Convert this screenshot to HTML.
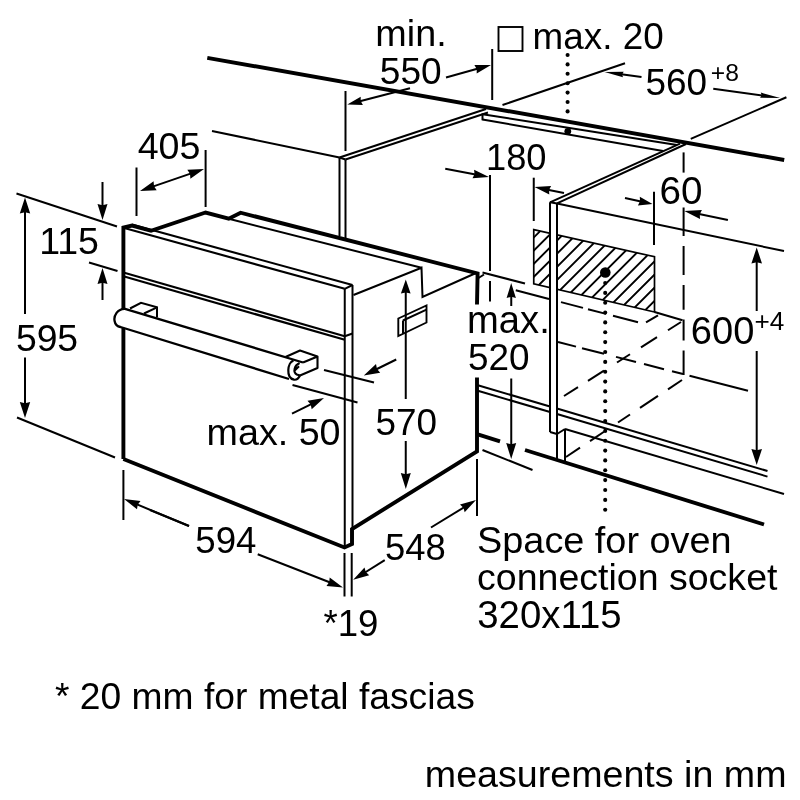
<!DOCTYPE html>
<html><head><meta charset="utf-8"><title>Oven installation dimensions</title>
<style>
html,body{margin:0;padding:0;background:#fff;}
svg{display:block;filter:grayscale(1)}
svg text{font-family:"Liberation Sans",Arial,Helvetica,sans-serif;fill:#000;stroke:none}
</style></head><body>
<svg width="800" height="800" viewBox="0 0 800 800" stroke="#000" fill="none">
<rect x="0" y="0" width="800" height="800" fill="#fff" stroke="none"/>
<line x1="207.3" y1="57.8" x2="784.2" y2="160" stroke-width="3.9" stroke-linecap="butt"/>
<line x1="212" y1="131" x2="339.5" y2="157.5" stroke-width="2.0" stroke-linecap="butt"/>
<polyline points="482.5,113.4 482.5,120.3" stroke-width="2.0" fill="none" stroke-linejoin="miter"/>
<line x1="482.5" y1="114.2" x2="677" y2="145" stroke-width="2.0" stroke-linecap="butt"/>
<line x1="482.5" y1="119.5" x2="663" y2="151" stroke-width="2.0" stroke-linecap="butt"/>
<line x1="339.5" y1="157.5" x2="486" y2="109" stroke-width="2.0" stroke-linecap="butt"/>
<line x1="345.5" y1="159.5" x2="488" y2="112.5" stroke-width="2.0" stroke-linecap="butt"/>
<line x1="339.5" y1="157.5" x2="339.5" y2="236" stroke-width="2.0" stroke-linecap="butt"/>
<line x1="345.5" y1="159.5" x2="345.5" y2="238" stroke-width="2.0" stroke-linecap="butt"/>
<line x1="339.5" y1="157.5" x2="345.5" y2="159.5" stroke-width="2.0" stroke-linecap="butt"/>
<defs><clipPath id="hc"><polygon points="533.75,229.6 654.5,256.75 654.5,312 533.75,283.9"/></clipPath></defs>
<path d="M451.25,320 L551.25,220 M464.40,320 L564.40,220 M477.55,320 L577.55,220 M490.70,320 L590.70,220 M503.85,320 L603.85,220 M517.00,320 L617.00,220 M530.15,320 L630.15,220 M543.30,320 L643.30,220 M556.45,320 L656.45,220 M569.60,320 L669.60,220 M582.75,320 L682.75,220 M595.90,320 L695.90,220 M609.05,320 L709.05,220 M622.20,320 L722.20,220 M635.35,320 L735.35,220 M648.50,320 L748.50,220" stroke-width="1.9" clip-path="url(#hc)"/>
<polygon points="533.75,229.6 654.5,256.75 654.5,312 533.75,283.9" stroke-width="1.7" fill="none" stroke-linejoin="miter"/>
<line x1="654.5" y1="312" x2="682.5" y2="320.3" stroke-width="2.0" stroke-linecap="butt"/>
<line x1="557" y1="203.6" x2="784" y2="251" stroke-width="2.0" stroke-linecap="butt"/>
<line x1="515.75" y1="290.25" x2="549" y2="298.9615" stroke-width="2.0" stroke-linecap="butt"/>
<line x1="561" y1="302.1055" x2="583" y2="307.8695" stroke-width="2.0" stroke-linecap="butt"/>
<line x1="588" y1="309.1795" x2="606" y2="313.8955" stroke-width="2.0" stroke-linecap="butt"/>
<line x1="613" y1="315.72950000000003" x2="638" y2="322.2795" stroke-width="2.0" stroke-linecap="butt"/>
<line x1="646" y1="322.3" x2="658" y2="315.3" stroke-width="2.0" stroke-linecap="butt"/>
<line x1="681" y1="322.0" x2="668" y2="330.22222222222223" stroke-width="2.0" stroke-linecap="butt"/>
<line x1="657" y1="337.1794871794872" x2="641" y2="347.2991452991453" stroke-width="2.0" stroke-linecap="butt"/>
<line x1="630" y1="354.2564102564103" x2="617" y2="362.47863247863245" stroke-width="2.0" stroke-linecap="butt"/>
<line x1="604" y1="370.7008547008547" x2="588" y2="380.8205128205128" stroke-width="2.0" stroke-linecap="butt"/>
<line x1="578" y1="387.14529914529913" x2="564" y2="396.0" stroke-width="2.0" stroke-linecap="butt"/>
<line x1="558" y1="342.0" x2="576" y2="346.6188" stroke-width="2.0" stroke-linecap="butt"/>
<line x1="582" y1="348.15840000000003" x2="604" y2="353.8036" stroke-width="2.0" stroke-linecap="butt"/>
<line x1="616" y1="356.8828" x2="636" y2="362.0148" stroke-width="2.0" stroke-linecap="butt"/>
<line x1="644" y1="364.06759999999997" x2="664" y2="369.1996" stroke-width="2.0" stroke-linecap="butt"/>
<line x1="672" y1="371.2524" x2="683" y2="374.075" stroke-width="2.0" stroke-linecap="butt"/>
<line x1="689.5" y1="375.7429" x2="748" y2="390.754" stroke-width="2.0" stroke-linecap="butt"/>
<line x1="682" y1="380.0" x2="668" y2="389.2931034482759" stroke-width="2.0" stroke-linecap="butt"/>
<line x1="658" y1="395.9310344827586" x2="640" y2="407.87931034482756" stroke-width="2.0" stroke-linecap="butt"/>
<line x1="630" y1="414.51724137931035" x2="618" y2="422.48275862068965" stroke-width="2.0" stroke-linecap="butt"/>
<line x1="604" y1="431.7758620689655" x2="590" y2="441.0689655172414" stroke-width="2.0" stroke-linecap="butt"/>
<line x1="580" y1="447.7068965517241" x2="566" y2="457.0" stroke-width="2.0" stroke-linecap="butt"/>
<line x1="683.6" y1="152.4" x2="683.6" y2="172.6" stroke-width="2.0" stroke-linecap="butt"/>
<line x1="683.6" y1="207.5" x2="683.6" y2="236" stroke-width="2.0" stroke-linecap="butt"/>
<line x1="683.6" y1="246" x2="683.6" y2="275" stroke-width="2.0" stroke-linecap="butt"/>
<line x1="683.6" y1="285" x2="683.6" y2="309.75" stroke-width="2.0" stroke-linecap="butt"/>
<line x1="683.6" y1="319.5" x2="683.6" y2="340.5" stroke-width="2.0" stroke-linecap="butt"/>
<line x1="683.6" y1="350.5" x2="683.6" y2="375" stroke-width="2.0" stroke-linecap="butt"/>
<polygon points="550,202.3 557,203.4 557,434 550,432" fill="#fff" stroke="none"/>
<line x1="550" y1="202.3" x2="680" y2="143.7" stroke-width="2.0" stroke-linecap="butt"/>
<line x1="557" y1="203.4" x2="686" y2="144" stroke-width="2.0" stroke-linecap="butt"/>
<line x1="550" y1="202.3" x2="557" y2="203.4" stroke-width="2.0" stroke-linecap="butt"/>
<line x1="550" y1="202.3" x2="550" y2="432" stroke-width="2.0" stroke-linecap="butt"/>
<line x1="557" y1="203.4" x2="557" y2="459" stroke-width="2.0" stroke-linecap="butt"/>
<line x1="550" y1="432" x2="557" y2="434" stroke-width="2.0" stroke-linecap="butt"/>
<line x1="557" y1="434" x2="565" y2="429" stroke-width="2.0" stroke-linecap="butt"/>
<line x1="565" y1="429" x2="565" y2="461" stroke-width="2.0" stroke-linecap="butt"/>
<line x1="477" y1="385" x2="550" y2="406.5" stroke-width="2.0" stroke-linecap="butt"/>
<line x1="477" y1="390.5" x2="550" y2="412" stroke-width="2.0" stroke-linecap="butt"/>
<line x1="557" y1="408.5" x2="767.5" y2="471" stroke-width="2.0" stroke-linecap="butt"/>
<line x1="557" y1="414" x2="767.5" y2="476.6" stroke-width="2.0" stroke-linecap="butt"/>
<line x1="565" y1="429" x2="784" y2="494" stroke-width="2.0" stroke-linecap="butt"/>
<line x1="477" y1="434.2" x2="500" y2="441.4" stroke-width="3.9" stroke-linecap="butt"/>
<line x1="525" y1="450" x2="764" y2="524.5" stroke-width="3.9" stroke-linecap="butt"/>
<circle cx="567.6" cy="55.0" r="2.05" fill="#000" stroke="none"/>
<circle cx="567.6" cy="64.4" r="2.05" fill="#000" stroke="none"/>
<circle cx="567.6" cy="73.8" r="2.05" fill="#000" stroke="none"/>
<circle cx="567.6" cy="83.2" r="2.05" fill="#000" stroke="none"/>
<circle cx="567.6" cy="92.6" r="2.05" fill="#000" stroke="none"/>
<circle cx="567.6" cy="102.0" r="2.05" fill="#000" stroke="none"/>
<circle cx="567.6" cy="111.4" r="2.05" fill="#000" stroke="none"/>
<circle cx="567.8" cy="131.3" r="3.4" fill="#000" stroke="none"/>
<circle cx="605.3" cy="272.5" r="5.3" fill="#000" stroke="none"/>
<circle cx="605.2" cy="283.0" r="2.05" fill="#000" stroke="none"/>
<circle cx="605.2" cy="292.9" r="2.05" fill="#000" stroke="none"/>
<circle cx="605.2" cy="302.7" r="2.05" fill="#000" stroke="none"/>
<circle cx="605.2" cy="312.6" r="2.05" fill="#000" stroke="none"/>
<circle cx="605.2" cy="322.4" r="2.05" fill="#000" stroke="none"/>
<circle cx="605.2" cy="332.3" r="2.05" fill="#000" stroke="none"/>
<circle cx="605.2" cy="342.1" r="2.05" fill="#000" stroke="none"/>
<circle cx="605.2" cy="352.0" r="2.05" fill="#000" stroke="none"/>
<circle cx="605.2" cy="361.9" r="2.05" fill="#000" stroke="none"/>
<circle cx="605.2" cy="371.7" r="2.05" fill="#000" stroke="none"/>
<circle cx="605.2" cy="381.6" r="2.05" fill="#000" stroke="none"/>
<circle cx="605.2" cy="391.4" r="2.05" fill="#000" stroke="none"/>
<circle cx="605.2" cy="401.3" r="2.05" fill="#000" stroke="none"/>
<circle cx="605.2" cy="411.1" r="2.05" fill="#000" stroke="none"/>
<circle cx="605.2" cy="421.0" r="2.05" fill="#000" stroke="none"/>
<circle cx="605.2" cy="430.9" r="2.05" fill="#000" stroke="none"/>
<circle cx="605.2" cy="440.7" r="2.05" fill="#000" stroke="none"/>
<circle cx="605.2" cy="450.6" r="2.05" fill="#000" stroke="none"/>
<circle cx="605.2" cy="460.4" r="2.05" fill="#000" stroke="none"/>
<circle cx="605.2" cy="470.3" r="2.05" fill="#000" stroke="none"/>
<circle cx="605.2" cy="480.1" r="2.05" fill="#000" stroke="none"/>
<circle cx="605.2" cy="490.0" r="2.05" fill="#000" stroke="none"/>
<circle cx="605.2" cy="499.9" r="2.05" fill="#000" stroke="none"/>
<circle cx="605.2" cy="509.7" r="2.05" fill="#000" stroke="none"/>
<polygon points="123.4,227.6 132,225.5 151,230.8 205.6,212.5 228.75,218.75 240.6,212.7 478,273.5 477,451 352,529 352,544 344.5,547.5 123.4,459" fill="#fff" stroke="none"/>
<polyline points="123.4,459 123.4,227.6 132,225.5 151,230.8 205.6,212.5 228.75,218.75 240.6,212.7 477.6,273.4 477,304.5" stroke-width="3.9" fill="none" stroke-linejoin="miter"/>
<polyline points="477,377.5 477,451.5 352,529 352,544 344.5,547.5 123.4,459" stroke-width="3.9" fill="none" stroke-linejoin="miter"/>
<line x1="123.4" y1="227.8" x2="344.75" y2="288.8" stroke-width="2.1" stroke-linecap="butt"/>
<line x1="132" y1="224.5" x2="352.5" y2="285" stroke-width="2.1" stroke-linecap="butt"/>
<line x1="344.75" y1="288.8" x2="352.5" y2="285" stroke-width="2.0" stroke-linecap="butt"/>
<line x1="344.75" y1="288.8" x2="344.75" y2="547" stroke-width="2.0" stroke-linecap="butt"/>
<line x1="352.5" y1="285" x2="352.5" y2="544" stroke-width="2.0" stroke-linecap="butt"/>
<line x1="228.75" y1="218.75" x2="421.5" y2="267.8" stroke-width="2.0" stroke-linecap="butt"/>
<polyline points="353.5,295 421.5,267.8 422.5,297 476,273" stroke-width="2.0" fill="none" stroke-linejoin="miter"/>
<line x1="123.4" y1="272.5" x2="344.75" y2="336.25" stroke-width="2.1" stroke-linecap="butt"/>
<line x1="123.4" y1="276.3" x2="344.75" y2="339.8" stroke-width="2.2" stroke-linecap="butt"/>
<line x1="344.75" y1="336.25" x2="352.5" y2="333.5" stroke-width="2.0" stroke-linecap="butt"/>
<polygon points="398.3,318.5 426.5,305.5 426.5,322.5 398.3,336" stroke-width="1.9" fill="none" stroke-linejoin="miter"/>
<polyline points="403,320.5 403,333.5" stroke-width="2.0" fill="none" stroke-linejoin="miter"/>
<line x1="403" y1="320.5" x2="426.5" y2="309.7" stroke-width="2.0" stroke-linecap="butt"/>
<path d="M125,308.8 C117.5,308.5 113.5,316 114.6,321 C115.2,324.5 117.5,326.5 120.5,327 L289,379 L294,380 L300,375.5 L303,362.5 Z" fill="#fff" stroke="none"/>
<polyline points="130,308.5 141,302.8 157,307.2 157,317.5" stroke-width="2" fill="none" stroke-linejoin="miter"/>
<polyline points="144,313.5 156,307.8" stroke-width="2" fill="none" stroke-linejoin="miter"/>
<path d="M303,362.5 L125,308.8 C117.5,308.5 113.5,316 114.6,321 C115.2,324.5 117.5,326.5 120.5,327 L289,379" stroke-width="2.3" fill="none" stroke-linejoin="round"/>
<path d="M285.5,357 L300,350.5 L317.5,356.5 L303,362.5 M317.5,356.5 L317.5,368 L300,375.5" stroke-width="2.1" fill="none" stroke-linejoin="round"/>
<path d="M293.5,360.6 C287.5,362 285.5,378 294,379.7 C297,380.2 299,377.5 300,375.5" stroke-width="2.2" fill="none"/>
<path d="M299.6,363 C294.3,365.3 292.6,372 296.8,374.5 L300,375.5 M294.7,370.4 L299,366.3" stroke-width="2.1" fill="none"/>
<line x1="16.5" y1="193.5" x2="117" y2="226.5" stroke-width="2.0" stroke-linecap="butt"/>
<line x1="17" y1="417.5" x2="115" y2="457.5" stroke-width="2.0" stroke-linecap="butt"/>
<line x1="25" y1="314" x2="25.0" y2="207.1" stroke-width="2.0" stroke-linecap="butt"/>
<polygon points="25.0,197.5 30.2,213.5 25.0,212.3 19.8,213.5" fill="#000" stroke="none"/>
<line x1="25" y1="357.5" x2="25.0" y2="408.4" stroke-width="2.0" stroke-linecap="butt"/>
<polygon points="25.0,418.0 19.8,402.0 25.0,403.2 30.2,402.0" fill="#000" stroke="none"/>
<line x1="102.5" y1="182" x2="102.5" y2="210.4" stroke-width="2.0" stroke-linecap="butt"/>
<polygon points="102.5,220.0 97.5,204.0 102.5,205.2 107.5,204.0" fill="#000" stroke="none"/>
<line x1="102.5" y1="300" x2="102.5" y2="277.6" stroke-width="2.0" stroke-linecap="butt"/>
<polygon points="102.5,268.0 107.5,284.0 102.5,282.8 97.5,284.0" fill="#000" stroke="none"/>
<line x1="89" y1="262.5" x2="117.5" y2="271" stroke-width="2.0" stroke-linecap="butt"/>
<line x1="136.5" y1="167.5" x2="136.5" y2="216" stroke-width="2.0" stroke-linecap="butt"/>
<line x1="205.6" y1="150" x2="205.6" y2="207" stroke-width="2.0" stroke-linecap="butt"/>
<line x1="149.08" y1="187.88" x2="194.92" y2="172.12" stroke-width="2.0" stroke-linecap="butt"/>
<polygon points="204.0,169.0 190.4,178.7 190.0,173.8 187.3,169.7" fill="#000" stroke="none"/>
<polygon points="140.0,191.0 153.6,181.3 154.0,186.2 156.7,190.3" fill="#000" stroke="none"/>
<line x1="345.5" y1="91" x2="345.5" y2="151" stroke-width="2.0" stroke-linecap="butt"/>
<line x1="492.2" y1="49" x2="492.2" y2="100" stroke-width="2.0" stroke-linecap="butt"/>
<line x1="410" y1="88.3" x2="356.01" y2="102.34" stroke-width="2.0" stroke-linecap="butt"/>
<polygon points="347.3,104.6 360.7,96.7 360.7,101.1 362.9,105.0" fill="#000" stroke="none"/>
<line x1="446" y1="77.5" x2="481.75" y2="67.57" stroke-width="2.0" stroke-linecap="butt"/>
<polygon points="491.0,65.0 476.7,73.4 476.7,69.0 474.4,65.1" fill="#000" stroke="none"/>
<line x1="502.5" y1="105" x2="625" y2="63.3" stroke-width="2.0" stroke-linecap="butt"/>
<line x1="690.75" y1="138.9" x2="786.4" y2="97.25" stroke-width="2.0" stroke-linecap="butt"/>
<line x1="641.5" y1="77" x2="615.8" y2="73.53" stroke-width="2.0" stroke-linecap="butt"/>
<polygon points="604.5,72.0 623.7,71.8 622.1,74.4 623.0,77.3" fill="#000" stroke="none"/>
<line x1="713.25" y1="88.7" x2="768.41" y2="96.27" stroke-width="2.0" stroke-linecap="butt"/>
<polygon points="780.3,97.9 760.1,97.8 761.7,95.3 760.8,92.6" fill="#000" stroke="none"/>
<line x1="490" y1="175" x2="490" y2="271" stroke-width="2.0" stroke-linecap="butt"/>
<line x1="490" y1="281" x2="490" y2="301.5" stroke-width="2.0" stroke-linecap="butt"/>
<line x1="478.5" y1="278" x2="484" y2="274.5" stroke-width="2.0" stroke-linecap="butt"/>
<line x1="533.75" y1="177.7" x2="533.75" y2="221" stroke-width="2.0" stroke-linecap="butt"/>
<line x1="445.25" y1="168.7" x2="479.57" y2="175.21" stroke-width="2.0" stroke-linecap="butt"/>
<polygon points="489.0,177.0 472.5,178.3 474.5,174.2 474.1,169.7" fill="#000" stroke="none"/>
<line x1="564" y1="193" x2="543.91" y2="188.91" stroke-width="2.0" stroke-linecap="butt"/>
<polygon points="534.5,187.0 551.1,185.9 549.0,189.9 549.3,194.5" fill="#000" stroke="none"/>
<line x1="654" y1="191.75" x2="654" y2="245" stroke-width="2.0" stroke-linecap="butt"/>
<line x1="625" y1="198" x2="644.3" y2="202.28" stroke-width="2.0" stroke-linecap="butt"/>
<polygon points="652.5,204.1 637.9,205.4 640.0,201.3 639.8,196.8" fill="#000" stroke="none"/>
<line x1="727.9" y1="219.9" x2="694.29" y2="213.04" stroke-width="2.0" stroke-linecap="butt"/>
<polygon points="684.3,211.0 701.9,209.9 699.8,214.2 700.0,218.9" fill="#000" stroke="none"/>
<line x1="756.7" y1="311" x2="756.7" y2="257.1" stroke-width="2.0" stroke-linecap="butt"/>
<polygon points="756.7,247.5 762.0,263.5 756.7,262.3 751.4,263.5" fill="#000" stroke="none"/>
<line x1="756.7" y1="351" x2="756.7" y2="455.4" stroke-width="2.0" stroke-linecap="butt"/>
<polygon points="756.7,465.0 751.4,449.0 756.7,450.2 762.0,449.0" fill="#000" stroke="none"/>
<line x1="482.5" y1="272.5" x2="525" y2="283.5" stroke-width="2.0" stroke-linecap="butt"/>
<line x1="482.5" y1="450" x2="532.5" y2="470" stroke-width="2.0" stroke-linecap="butt"/>
<line x1="511.25" y1="306" x2="511.25" y2="292.0" stroke-width="2.0" stroke-linecap="butt"/>
<polygon points="511.2,283.0 515.9,298.0 511.2,296.8 506.6,298.0" fill="#000" stroke="none"/>
<line x1="511.25" y1="378.5" x2="511.25" y2="449.4" stroke-width="2.0" stroke-linecap="butt"/>
<polygon points="511.2,459.0 506.2,443.0 511.2,444.2 516.2,443.0" fill="#000" stroke="none"/>
<line x1="405.75" y1="399" x2="405.75" y2="288.0" stroke-width="2.0" stroke-linecap="butt"/>
<polygon points="405.8,279.6 410.6,293.6 405.8,292.4 400.9,293.6" fill="#000" stroke="none"/>
<line x1="405.75" y1="441" x2="405.75" y2="479.4" stroke-width="2.0" stroke-linecap="butt"/>
<polygon points="405.8,489.0 400.8,473.0 405.8,474.2 410.8,473.0" fill="#000" stroke="none"/>
<line x1="324" y1="370" x2="374" y2="382.5" stroke-width="2.0" stroke-linecap="butt"/>
<line x1="292.5" y1="385" x2="357.5" y2="402.5" stroke-width="2.0" stroke-linecap="butt"/>
<line x1="396.25" y1="359.5" x2="372.36" y2="371.26" stroke-width="2.0" stroke-linecap="butt"/>
<polygon points="363.8,375.5 376.0,364.1 377.0,369.0 380.2,372.7" fill="#000" stroke="none"/>
<line x1="292" y1="413.6" x2="315.37" y2="402.21" stroke-width="2.0" stroke-linecap="butt"/>
<polygon points="324.0,398.0 311.7,409.3 310.7,404.5 307.5,400.7" fill="#000" stroke="none"/>
<line x1="123.4" y1="470" x2="123.4" y2="520" stroke-width="2.0" stroke-linecap="butt"/>
<line x1="344.5" y1="553" x2="344.5" y2="596.5" stroke-width="2.0" stroke-linecap="butt"/>
<line x1="189" y1="526" x2="132.87" y2="502.68" stroke-width="2.0" stroke-linecap="butt"/>
<polygon points="124.0,499.0 140.5,501.0 137.7,504.7 137.0,509.3" fill="#000" stroke="none"/>
<line x1="150" y1="510" x2="189" y2="526" stroke-width="2.0" stroke-linecap="butt"/>
<line x1="257.7" y1="554.25" x2="334.06" y2="584.01" stroke-width="2.0" stroke-linecap="butt"/>
<polygon points="343.0,587.5 326.5,585.9 329.2,582.1 329.7,577.5" fill="#000" stroke="none"/>
<line x1="351.7" y1="553" x2="351.7" y2="596.5" stroke-width="2.0" stroke-linecap="butt"/>
<line x1="477" y1="459" x2="477" y2="516" stroke-width="2.0" stroke-linecap="butt"/>
<line x1="431" y1="527.5" x2="467.81" y2="505.01" stroke-width="2.0" stroke-linecap="butt"/>
<polygon points="476.0,500.0 464.7,512.2 463.4,507.7 460.0,504.5" fill="#000" stroke="none"/>
<line x1="384.75" y1="560.2" x2="361.4" y2="574.73" stroke-width="2.0" stroke-linecap="butt"/>
<polygon points="353.2,579.8 364.5,567.5 365.8,572.0 369.2,575.2" fill="#000" stroke="none"/>
<text x="375.29" y="46.25" font-size="37.77">min.</text>
<text x="379.77" y="83.9" font-size="37.07">550</text>
<rect x="498.5" y="27" width="24" height="24" stroke-width="1.9"/>
<text x="532.61" y="49.4" font-size="36.84">max. 20</text>
<text x="645.42" y="95" font-size="36.91">560</text>
<text x="710.87" y="80.8" font-size="24.67">+8</text>
<text x="137.66" y="159.4" font-size="37.63">405</text>
<text x="39.19" y="254.3" font-size="37.50">115</text>
<text x="15.91" y="351" font-size="37.29">595</text>
<text x="486.03" y="170.2" font-size="36.29">180</text>
<text x="659.57" y="203.8" font-size="38.63">60</text>
<text x="690.85" y="344.4" font-size="38.10">600</text>
<text x="754.44" y="330.2" font-size="26.18">+4</text>
<text x="467.02" y="332.6" font-size="38.18">max.</text>
<text x="468.02" y="370.4" font-size="36.91">520</text>
<text x="375.52" y="434.6" font-size="36.91">570</text>
<text x="206.55" y="444.5" font-size="37.68">max. 50</text>
<text x="195.33" y="553" font-size="36.65">594</text>
<text x="385.04" y="559.5" font-size="36.44">548</text>
<text x="323.47" y="635.8" font-size="36.59">*19</text>
<text x="477.10" y="553" font-size="37.85">Space for oven</text>
<text x="477.11" y="590.2" font-size="37.53">connection socket</text>
<text x="477.27" y="627.8" font-size="38.37">320x115</text>
<text x="55.06" y="708.7" font-size="37.21">* 20 mm for metal fascias</text>
<text x="424.80" y="786.6" font-size="37.63">measurements in mm</text>
</svg>
</body></html>
